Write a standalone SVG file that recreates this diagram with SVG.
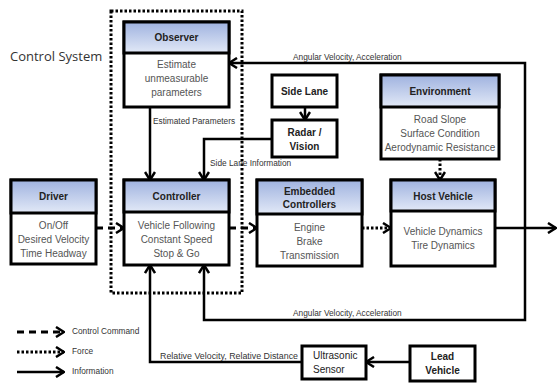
<svg xmlns="http://www.w3.org/2000/svg" width="557" height="384" viewBox="0 0 557 384">
<defs>
<linearGradient id="hg" x1="0" y1="0" x2="0" y2="1">
<stop offset="0" stop-color="#9fb2df"/>
<stop offset="1" stop-color="#e2e9f7"/>
</linearGradient>
<marker id="ar" viewBox="0 0 10 12" refX="9" refY="6" markerWidth="10" markerHeight="12" markerUnits="userSpaceOnUse" orient="auto">
<path d="M1,1 L9,6 L1,11" fill="none" stroke="#000" stroke-width="2.5"/>
</marker>
</defs>
<style>
.box{fill:#fff;stroke:#000;stroke-width:3}
.hd{fill:url(#hg);stroke:#000;stroke-width:3}
.ht{font-family:"Liberation Sans",Arial,sans-serif;font-size:10px;font-weight:bold;fill:#222;text-anchor:middle}
.bt{font-family:"Liberation Sans",Arial,sans-serif;font-size:10px;fill:#555;text-anchor:middle}
.lb{font-family:"Liberation Sans",Arial,sans-serif;font-size:8.3px;fill:#333}
.info{fill:none;stroke:#000;stroke-width:2.5}
.cmd{fill:none;stroke:#000;stroke-width:3;stroke-dasharray:7,5}
.frc{fill:none;stroke:#000;stroke-width:3;stroke-dasharray:2.5,2}
</style>
<rect width="557" height="384" fill="#fff"/>
<text x="10" y="61" font-family="'Open Sans','Liberation Sans',sans-serif" font-size="13" fill="#333">Control System</text>
<rect x="111" y="11" width="131" height="282" fill="none" stroke="#000" stroke-width="3" stroke-dasharray="2.5,2"/>

<g id="observer">
<rect class="box" x="124" y="22" width="105" height="85"/>
<rect class="hd" x="124" y="22" width="105" height="31"/>
<text class="ht" x="176.5" y="41">Observer</text>
<text class="bt" x="176.5" y="68">Estimate</text>
<text class="bt" x="176.5" y="82">unmeasurable</text>
<text class="bt" x="176.5" y="96">parameters</text>
</g>
<g id="controller">
<rect class="box" x="124" y="180" width="105" height="85"/>
<rect class="hd" x="124" y="180" width="105" height="32"/>
<text class="ht" x="176.5" y="200">Controller</text>
<text class="bt" x="176.5" y="229">Vehicle Following</text>
<text class="bt" x="176.5" y="243">Constant Speed</text>
<text class="bt" x="176.5" y="257">Stop &amp; Go</text>
</g>
<g id="driver">
<rect class="box" x="11" y="180" width="85" height="84"/>
<rect class="hd" x="11" y="180" width="85" height="33"/>
<text class="ht" x="53.5" y="200">Driver</text>
<text class="bt" x="53.5" y="229">On/Off</text>
<text class="bt" x="53.5" y="243">Desired Velocity</text>
<text class="bt" x="53.5" y="257">Time Headway</text>
</g>
<g id="embedded">
<rect class="box" x="257" y="180" width="105" height="86"/>
<rect class="hd" x="257" y="180" width="105" height="34"/>
<text class="ht" x="309.5" y="195">Embedded</text>
<text class="ht" x="309.5" y="208">Controllers</text>
<text class="bt" x="309.5" y="231">Engine</text>
<text class="bt" x="309.5" y="245">Brake</text>
<text class="bt" x="309.5" y="259">Transmission</text>
</g>
<g id="host">
<rect class="box" x="391" y="180" width="104" height="86"/>
<rect class="hd" x="391" y="180" width="104" height="31"/>
<text class="ht" x="443" y="200">Host Vehicle</text>
<text class="bt" x="443" y="235">Vehicle Dynamics</text>
<text class="bt" x="443" y="249">Tire Dynamics</text>
</g>
<g id="environment">
<rect class="box" x="381" y="75" width="118" height="84"/>
<rect class="hd" x="381" y="75" width="118" height="32"/>
<text class="ht" x="440" y="95">Environment</text>
<text class="bt" x="440" y="123">Road Slope</text>
<text class="bt" x="440" y="137">Surface Condition</text>
<text class="bt" x="440" y="151">Aerodynamic Resistance</text>
</g>
<g id="sidelane">
<rect class="box" x="272" y="75" width="65" height="32"/>
<text class="ht" x="304.5" y="95">Side Lane</text>
</g>
<g id="radar">
<rect class="box" x="272" y="120" width="65" height="37"/>
<text class="ht" x="304.5" y="136">Radar /</text>
<text class="ht" x="304.5" y="150">Vision</text>
</g>
<g id="ultrasonic">
<rect class="box" x="302" y="346" width="64" height="33"/>
<text class="ht" x="313" y="359" style="font-weight:normal;fill:#222;text-anchor:start">Ultrasonic</text>
<text class="ht" x="313" y="373" style="font-weight:normal;fill:#222;text-anchor:start">Sensor</text>
</g>
<g id="lead">
<rect class="box" x="410" y="346" width="65" height="35"/>
<text class="ht" x="442.5" y="360">Lead</text>
<text class="ht" x="442.5" y="374">Vehicle</text>
</g>

<g id="connectors">
<path class="info" d="M150,107 V180" marker-end="url(#ar)"/>
<text class="lb" x="153" y="124">Estimated Parameters</text>
<path class="info" d="M272,139 H204 V180" marker-end="url(#ar)"/>
<text class="lb" x="210" y="166">Side Lane Information</text>
<path class="info" d="M305,107 V120" marker-end="url(#ar)"/>
<path class="frc" d="M440,159 V180" marker-end="url(#ar)"/>
<path class="cmd" d="M96,228 H124" marker-end="url(#ar)"/>
<path class="cmd" d="M229,228 H257" marker-end="url(#ar)"/>
<path class="frc" d="M362,228 H391" marker-end="url(#ar)"/>
<path class="info" d="M495,228 H556" marker-end="url(#ar)"/>
<path class="info" d="M525,228 V63 H229" marker-end="url(#ar)"/>
<text class="lb" x="293" y="60">Angular Velocity, Acceleration</text>
<path class="info" d="M525,228 V320 H204 V265" marker-end="url(#ar)"/>
<text class="lb" x="293" y="316">Angular Velocity, Acceleration</text>
<path class="info" d="M302,362 H150 V265" marker-end="url(#ar)"/>
<text class="lb" x="160" y="359" textLength="138" lengthAdjust="spacingAndGlyphs">Relative Velocity, Relative Distance</text>
<path class="info" d="M410,362 H366" marker-end="url(#ar)"/>
</g>

<g id="legend">
<path class="cmd" d="M17,332 H64" marker-end="url(#ar)"/>
<text class="lb" x="72" y="334">Control Command</text>
<path class="frc" d="M17,352 H64" marker-end="url(#ar)"/>
<text class="lb" x="72" y="354">Force</text>
<path class="info" d="M17,372 H64" marker-end="url(#ar)"/>
<text class="lb" x="72" y="374">Information</text>
</g>
</svg>
